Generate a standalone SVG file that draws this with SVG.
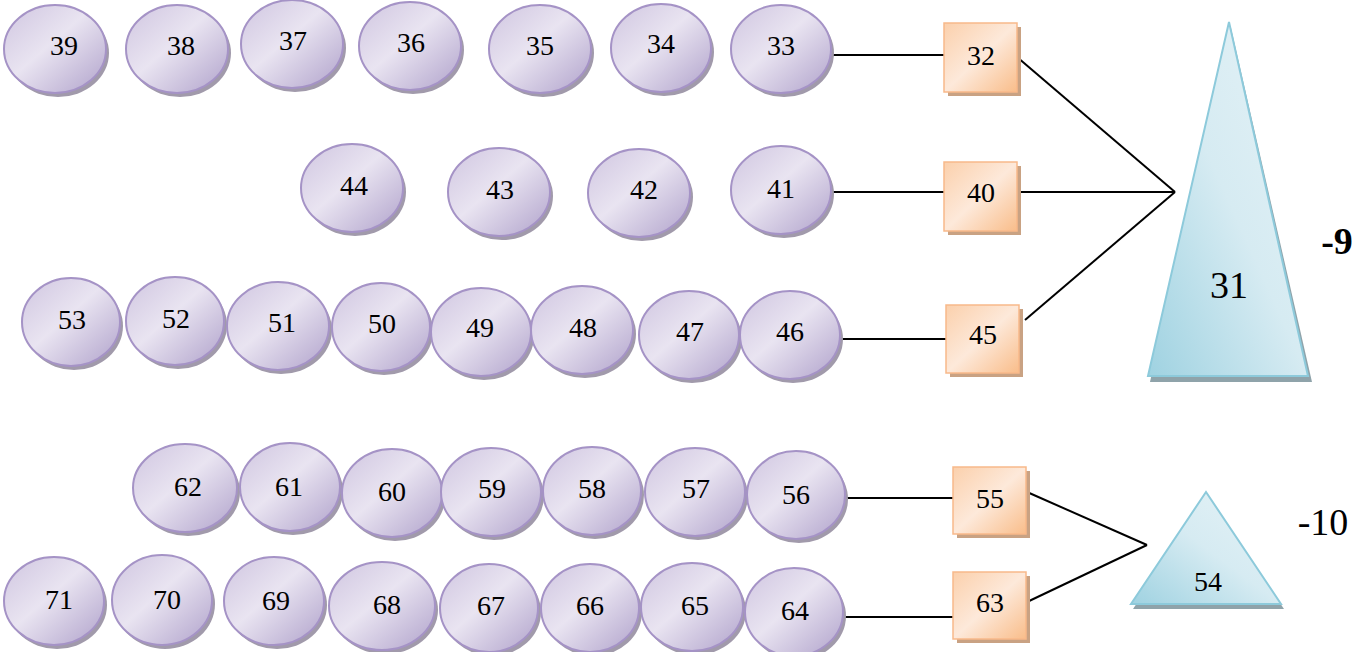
<svg xmlns="http://www.w3.org/2000/svg" width="1360" height="652" viewBox="0 0 1360 652">
<defs>
<linearGradient id="gE" x1="0" y1="0" x2="1" y2="1">
<stop offset="0" stop-color="#cfc5e0"/><stop offset="0.45" stop-color="#e9e4f1"/><stop offset="1" stop-color="#b0a2cb"/>
</linearGradient>
<linearGradient id="gS" x1="0" y1="0" x2="1" y2="1">
<stop offset="0" stop-color="#fbd0ac"/><stop offset="0.5" stop-color="#fde9da"/><stop offset="1" stop-color="#f9bd8a"/>
</linearGradient>
<linearGradient id="gT" x1="0" y1="1" x2="1" y2="0">
<stop offset="0" stop-color="#9fd2e1"/><stop offset="0.5" stop-color="#d6ebf2"/><stop offset="1" stop-color="#e6f3f7"/>
</linearGradient>
</defs>
<style>
.sh{fill:#a19aab}
.el{fill:url(#gE);stroke:#a593c6;stroke-width:2}
.sq{fill:url(#gS);stroke:#f8b98a;stroke-width:1.5}
.sqs{fill:#c9a283}
.tr{fill:url(#gT);stroke:#8dcadb;stroke-width:2}
.trs{fill:#8fa3aa}
text{font-family:'Liberation Serif',serif;fill:#000;text-anchor:middle}
.n{font-size:28px}
.big{font-size:38px}
.conn line{stroke:#000;stroke-width:2}
</style>

<g class="conn" id="connectors">
<line x1="833" y1="55" x2="944" y2="55"/>
<line x1="833" y1="192" x2="944" y2="192"/>
<line x1="842" y1="339" x2="946" y2="339"/>
<line x1="847" y1="498" x2="953" y2="498"/>
<line x1="845" y1="617" x2="953" y2="617"/>
<line x1="1017" y1="57" x2="1175" y2="192"/>
<line x1="1017" y1="192" x2="1175" y2="192"/>
<line x1="1025" y1="320" x2="1175" y2="192"/>
<line x1="1027" y1="492" x2="1147" y2="545"/>
<line x1="1027" y1="602" x2="1147" y2="545"/>
</g>

<g font-family="Liberation Serif, Times New Roman, serif">
<g id="n39"><ellipse class="sh" cx="58" cy="53" rx="51" ry="44"/><ellipse class="el" cx="55" cy="49" rx="51" ry="44"/><text class="n" x="64" y="55">39</text></g>
<g id="n38"><ellipse class="sh" cx="180" cy="53" rx="51" ry="44"/><ellipse class="el" cx="177" cy="49" rx="51" ry="44"/><text class="n" x="181" y="55">38</text></g>
<g id="n37"><ellipse class="sh" cx="295" cy="48" rx="51" ry="44"/><ellipse class="el" cx="292" cy="44" rx="51" ry="44"/><text class="n" x="293" y="50">37</text></g>
<g id="n36"><ellipse class="sh" cx="413" cy="50" rx="51" ry="44"/><ellipse class="el" cx="410" cy="46" rx="51" ry="44"/><text class="n" x="411" y="52">36</text></g>
<g id="n35"><ellipse class="sh" cx="543" cy="53" rx="51" ry="44"/><ellipse class="el" cx="540" cy="49" rx="51" ry="44"/><text class="n" x="540" y="55">35</text></g>
<g id="n34"><ellipse class="sh" cx="664" cy="52" rx="50" ry="44"/><ellipse class="el" cx="661" cy="48" rx="50" ry="44"/><text class="n" x="661" y="53">34</text></g>
<g id="n33"><ellipse class="sh" cx="784" cy="53" rx="50" ry="44"/><ellipse class="el" cx="781" cy="49" rx="50" ry="44"/><text class="n" x="781" y="55">33</text></g>

<g id="n44"><ellipse class="sh" cx="355" cy="192" rx="51" ry="44"/><ellipse class="el" cx="352" cy="188" rx="51" ry="44"/><text class="n" x="354" y="195">44</text></g>
<g id="n43"><ellipse class="sh" cx="502" cy="196" rx="51" ry="44"/><ellipse class="el" cx="499" cy="192" rx="51" ry="44"/><text class="n" x="500" y="199">43</text></g>
<g id="n42"><ellipse class="sh" cx="642" cy="197" rx="51" ry="44"/><ellipse class="el" cx="639" cy="193" rx="51" ry="44"/><text class="n" x="644" y="199">42</text></g>
<g id="n41"><ellipse class="sh" cx="784" cy="194" rx="50" ry="44"/><ellipse class="el" cx="781" cy="190" rx="50" ry="44"/><text class="n" x="781" y="198">41</text></g>

<g id="n53"><ellipse class="sh" cx="74" cy="326" rx="49" ry="44"/><ellipse class="el" cx="71" cy="322" rx="49" ry="44"/><text class="n" x="72" y="329">53</text></g>
<g id="n52"><ellipse class="sh" cx="178" cy="325" rx="49" ry="44"/><ellipse class="el" cx="175" cy="321" rx="49" ry="44"/><text class="n" x="176" y="328">52</text></g>
<g id="n51"><ellipse class="sh" cx="281" cy="330" rx="51" ry="44"/><ellipse class="el" cx="278" cy="326" rx="51" ry="44"/><text class="n" x="282" y="332">51</text></g>
<g id="n50"><ellipse class="sh" cx="384" cy="331" rx="49" ry="44"/><ellipse class="el" cx="381" cy="327" rx="49" ry="44"/><text class="n" x="382" y="333">50</text></g>
<g id="n49"><ellipse class="sh" cx="484" cy="336" rx="50" ry="44"/><ellipse class="el" cx="481" cy="332" rx="50" ry="44"/><text class="n" x="480" y="337">49</text></g>
<g id="n48"><ellipse class="sh" cx="585" cy="334" rx="51" ry="44"/><ellipse class="el" cx="582" cy="330" rx="51" ry="44"/><text class="n" x="583" y="337">48</text></g>
<g id="n47"><ellipse class="sh" cx="692" cy="339" rx="50" ry="44"/><ellipse class="el" cx="689" cy="335" rx="50" ry="44"/><text class="n" x="690" y="341">47</text></g>
<g id="n46"><ellipse class="sh" cx="793" cy="339" rx="50" ry="44"/><ellipse class="el" cx="790" cy="335" rx="50" ry="44"/><text class="n" x="790" y="341">46</text></g>

<g id="n62"><ellipse class="sh" cx="188" cy="492" rx="52" ry="44"/><ellipse class="el" cx="185" cy="488" rx="52" ry="44"/><text class="n" x="188" y="496">62</text></g>
<g id="n61"><ellipse class="sh" cx="293" cy="491" rx="50" ry="44"/><ellipse class="el" cx="290" cy="487" rx="50" ry="44"/><text class="n" x="289" y="496">61</text></g>
<g id="n60"><ellipse class="sh" cx="395" cy="497" rx="50" ry="44"/><ellipse class="el" cx="392" cy="493" rx="50" ry="44"/><text class="n" x="392" y="501">60</text></g>
<g id="n59"><ellipse class="sh" cx="494" cy="496" rx="50" ry="44"/><ellipse class="el" cx="491" cy="492" rx="50" ry="44"/><text class="n" x="492" y="498">59</text></g>
<g id="n58"><ellipse class="sh" cx="595" cy="495" rx="49" ry="44"/><ellipse class="el" cx="592" cy="491" rx="49" ry="44"/><text class="n" x="592" y="498">58</text></g>
<g id="n57"><ellipse class="sh" cx="698" cy="496" rx="50" ry="44"/><ellipse class="el" cx="695" cy="492" rx="50" ry="44"/><text class="n" x="696" y="498">57</text></g>
<g id="n56"><ellipse class="sh" cx="799" cy="499" rx="49" ry="44"/><ellipse class="el" cx="796" cy="495" rx="49" ry="44"/><text class="n" x="796" y="504">56</text></g>

<g id="n71"><ellipse class="sh" cx="57" cy="605" rx="50" ry="44"/><ellipse class="el" cx="54" cy="601" rx="50" ry="44"/><text class="n" x="59" y="609">71</text></g>
<g id="n70"><ellipse class="sh" cx="165" cy="604" rx="50" ry="45"/><ellipse class="el" cx="162" cy="600" rx="50" ry="45"/><text class="n" x="167" y="609">70</text></g>
<g id="n69"><ellipse class="sh" cx="277" cy="605" rx="50" ry="44"/><ellipse class="el" cx="274" cy="601" rx="50" ry="44"/><text class="n" x="276" y="610">69</text></g>
<g id="n68"><ellipse class="sh" cx="385" cy="610" rx="53" ry="44"/><ellipse class="el" cx="382" cy="606" rx="53" ry="44"/><text class="n" x="387" y="614">68</text></g>
<g id="n67"><ellipse class="sh" cx="492" cy="612" rx="49" ry="44"/><ellipse class="el" cx="489" cy="608" rx="49" ry="44"/><text class="n" x="491" y="615">67</text></g>
<g id="n66"><ellipse class="sh" cx="593" cy="612" rx="49" ry="44"/><ellipse class="el" cx="590" cy="608" rx="49" ry="44"/><text class="n" x="590" y="615">66</text></g>
<g id="n65"><ellipse class="sh" cx="695" cy="611" rx="51" ry="44"/><ellipse class="el" cx="692" cy="607" rx="51" ry="44"/><text class="n" x="695" y="615">65</text></g>
<g id="n64"><ellipse class="sh" cx="797" cy="616" rx="49" ry="44"/><ellipse class="el" cx="794" cy="612" rx="49" ry="44"/><text class="n" x="795" y="620">64</text></g>

<g id="n32"><rect class="sqs" x="948" y="27" width="73" height="69"/><rect class="sq" x="944" y="23" width="73" height="69"/><text class="n" x="981" y="65">32</text></g>
<g id="n40"><rect class="sqs" x="948" y="166" width="73" height="69"/><rect class="sq" x="944" y="162" width="73" height="69"/><text class="n" x="981" y="202">40</text></g>
<g id="n45"><rect class="sqs" x="950" y="309" width="73" height="68"/><rect class="sq" x="946" y="305" width="73" height="68"/><text class="n" x="983" y="344">45</text></g>
<g id="n55"><rect class="sqs" x="957" y="471" width="73" height="67"/><rect class="sq" x="953" y="467" width="73" height="67"/><text class="n" x="990" y="508">55</text></g>
<g id="n63"><rect class="sqs" x="957" y="576" width="73" height="67"/><rect class="sq" x="953" y="572" width="73" height="67"/><text class="n" x="990" y="612">63</text></g>

<g id="n31"><polygon class="trs" points="1231,28 1150,382 1312,382"/><polygon class="tr" points="1229,22 1148,376 1308,376"/><text class="big" x="1229" y="298">31</text></g>
<g id="n54"><polygon class="trs" points="1208,497 1133,609 1284,609"/><polygon class="tr" points="1206,492 1131,604 1281,604"/><text class="n" x="1208" y="591">54</text></g>

<g id="labels">
<text class="big" x="1337" y="254" font-weight="bold">-9</text>
<text class="big" x="1323" y="535">-10</text>
</g>
</g>
</svg>
